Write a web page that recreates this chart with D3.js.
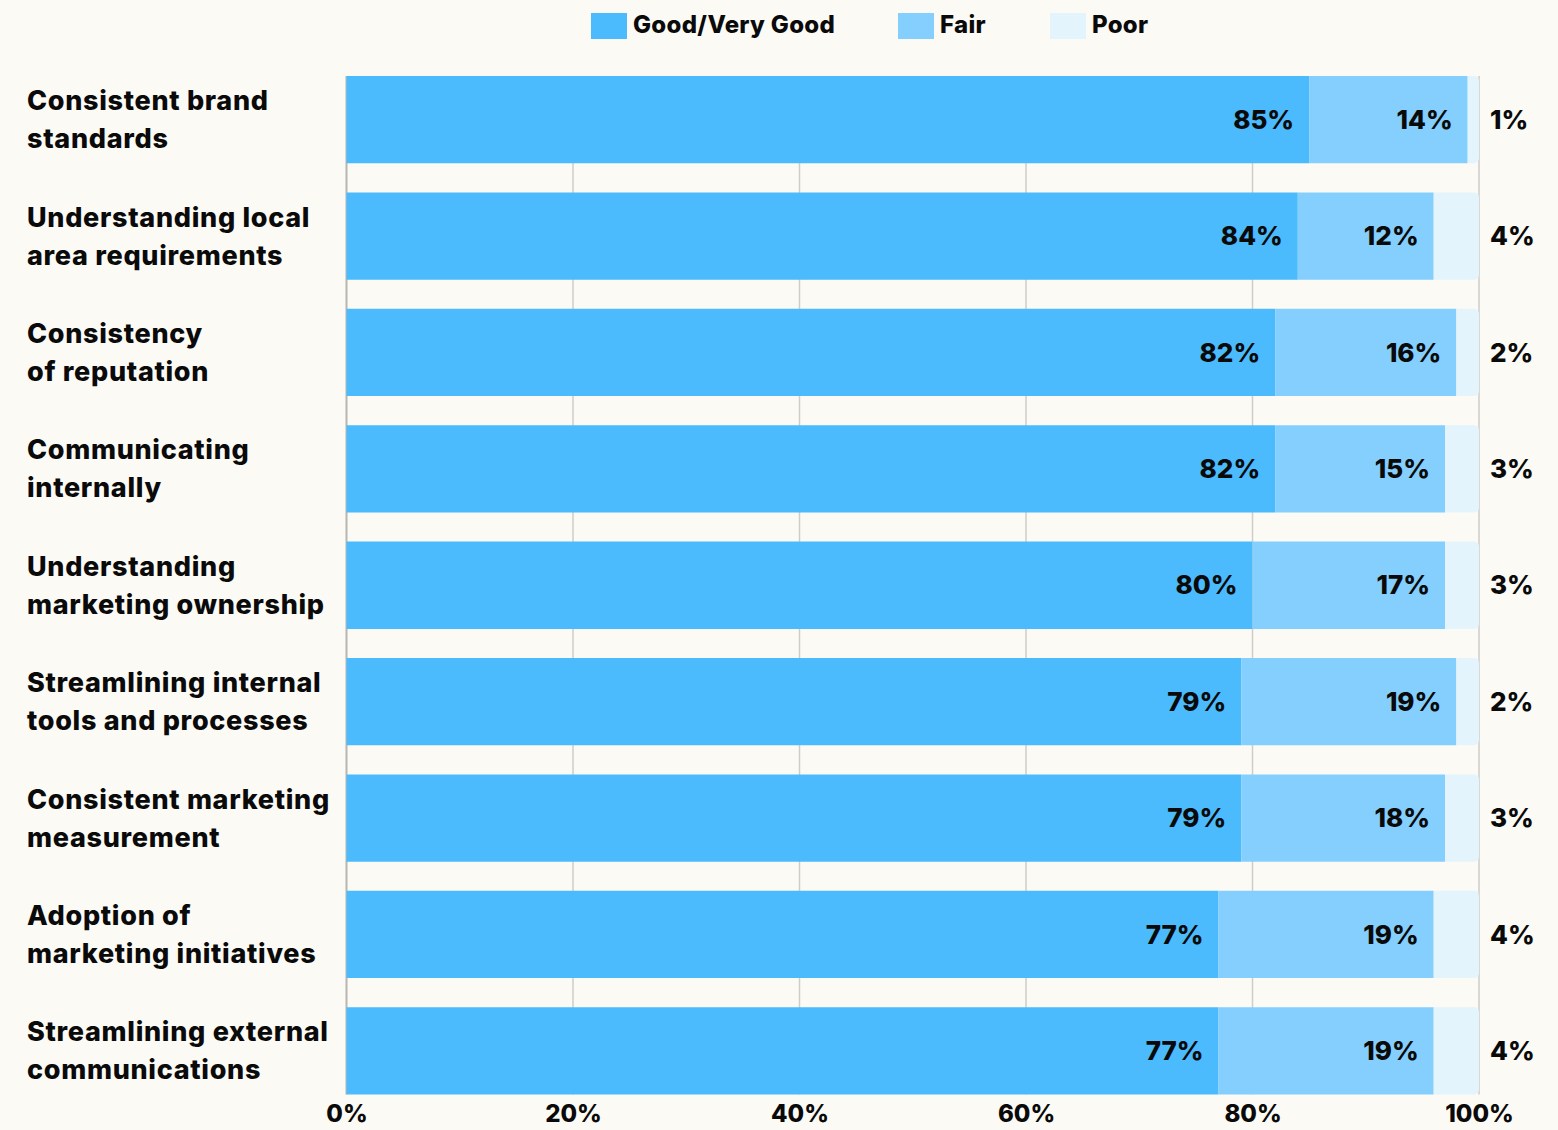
<!DOCTYPE html>
<html>
<head>
<meta charset="utf-8">
<script src="https://cdn.jsdelivr.net/npm/d3@7"></script>
<style>
  html, body { margin: 0; padding: 0; background: #fbfaf5; }
  svg { display: block; }
  text { font-family: "Inter", "DejaVu Sans", sans-serif; font-weight: 800; fill: #0a0a0a; }
</style>
</head>
<body>
<svg id="chart" width="1558" height="1130"></svg>
<script>
// Survey categories (each label drawn on two lines)
const categories = [
  ["Consistent brand", "standards"],
  ["Understanding local", "area requirements"],
  ["Consistency", "of reputation"],
  ["Communicating", "internally"],
  ["Understanding", "marketing ownership"],
  ["Streamlining internal", "tools and processes"],
  ["Consistent marketing", "measurement"],
  ["Adoption of", "marketing initiatives"],
  ["Streamlining external", "communications"]
];
const seriesNames = ["Good/Very Good", "Fair", "Poor"];
const goodValues = [85, 84, 82, 82, 80, 79, 79, 77, 77];
const fairValues = [14, 12, 16, 15, 17, 19, 18, 19, 19];
const poorValues = [1, 4, 2, 3, 3, 2, 3, 4, 4];
const tickValues = [0, 20, 40, 60, 80, 100];

const colors = ["#4bbbfe", "#84cffd", "#e3f4fd"];

const svg = d3.select("#chart");

const rows = categories.map((c, i) => ({
  key: c.join(" "),
  lines: c,
  values: [goodValues[i], fairValues[i], poorValues[i]]
}));

const x = d3.scaleLinear().domain([0, 100]).range([346.5, 1479]);
const y = d3.scaleBand()
  .domain(rows.map(d => d.key))
  .range([76, 1094.5])
  .paddingInner(0.25)
  .paddingOuter(0);

// Vertical grid lines
svg.append("g")
  .selectAll("line")
  .data(tickValues.filter(t => t > 0))
  .join("line")
  .attr("x1", d => x(d)).attr("x2", d => x(d))
  .attr("y1", y.range()[0]).attr("y2", y.range()[1])
  .attr("stroke", "#cfcdc8")
  .attr("stroke-width", 1.5);

// Baseline at 0%
svg.append("line")
  .attr("x1", x(0)).attr("x2", x(0))
  .attr("y1", y.range()[0]).attr("y2", y.range()[1])
  .attr("stroke", "#b8b6b1")
  .attr("stroke-width", 2);

// Stacked segments
const stack = d3.stack().keys([0, 1, 2]).value((d, k) => d.values[k]);
const stacked = stack(rows);

const r = 5;
function segPath(x0, x1, y0, h, roundRight) {
  if (!roundRight) return `M${x0},${y0}H${x1}V${y0 + h}H${x0}Z`;
  const rr = Math.min(r, (x1 - x0));
  return `M${x0},${y0}H${x1 - rr}A${rr},${rr} 0 0 1 ${x1},${y0 + rr}` +
         `V${y0 + h - rr}A${rr},${rr} 0 0 1 ${x1 - rr},${y0 + h}H${x0}Z`;
}

const layers = svg.append("g")
  .selectAll("g")
  .data(stacked)
  .join("g")
  .attr("fill", (d, i) => colors[i]);

layers.selectAll("path")
  .data((d, i) => d.map(s => ({ s, layer: i })))
  .join("path")
  .attr("d", d => segPath(x(d.s[0]), x(d.s[1]), y(d.s.data.key), y.bandwidth(), d.layer === 2));

// Value labels: inside for Good and Fair, outside for Poor
const labels = svg.append("g").attr("font-size", 26);
stacked.forEach((layer, i) => {
  labels.selectAll(null)
    .data(layer)
    .join("text")
    .attr("x", d => i < 2 ? x(d[1]) - 15 : x(100) + 11)
    .attr("y", d => y(d.data.key) + y.bandwidth() / 2)
    .attr("dy", "0.35em")
    .attr("text-anchor", i < 2 ? "end" : "start")
    .text(d => d.data.values[i] + "%");
});

// Category labels
const cat = svg.append("g").attr("font-size", 27).attr("letter-spacing", 0.7);
rows.forEach(row => {
  const cy = y(row.key) + y.bandwidth() / 2;
  row.lines.forEach((ln, j) => {
    cat.append("text")
      .attr("x", 27)
      .attr("y", cy + (j - (row.lines.length - 1) / 2) * 38)
      .attr("dy", "0.35em")
      .text(ln);
  });
});

// Bottom axis labels
const axis = svg.append("g")
  .attr("transform", `translate(0, ${y.range()[1]})`)
  .call(d3.axisBottom(x).tickValues(tickValues).tickFormat(d => d + "%").tickSize(0).tickPadding(10));
axis.select(".domain").remove();
axis.selectAll("text")
  .attr("font-size", 24)
  .attr("font-family", null)
  .style("font-family", "Inter, 'DejaVu Sans', sans-serif")
  .style("font-weight", 800)
  .attr("fill", "#0a0a0a");

// Legend
const legendItems = [
  { name: seriesNames[0], x: 591 },
  { name: seriesNames[1], x: 898 },
  { name: seriesNames[2], x: 1050 }
];
const legend = svg.append("g").attr("letter-spacing", 0.3);
legendItems.forEach((it, i) => {
  legend.append("rect")
    .attr("x", it.x).attr("y", 13)
    .attr("width", 36).attr("height", 26)
    .attr("fill", colors[i]);
  legend.append("text")
    .attr("x", it.x + 42).attr("y", 25)
    .attr("dy", "0.35em")
    .attr("font-size", 24)
    .text(it.name);
});
</script>
</body>
</html>
